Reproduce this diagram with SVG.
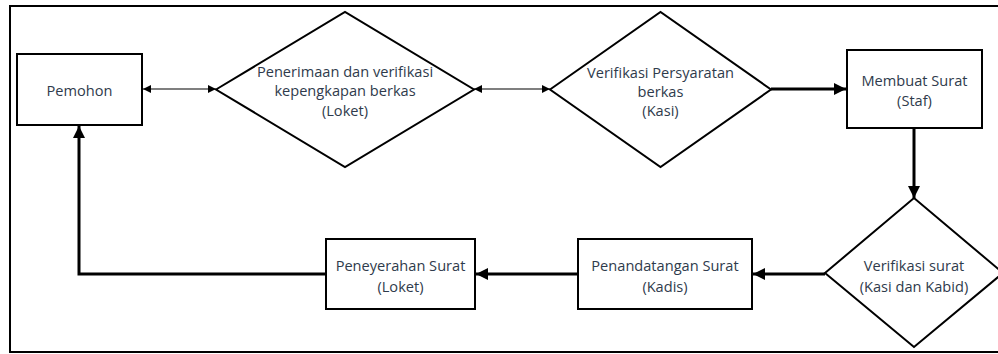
<svg xmlns="http://www.w3.org/2000/svg" width="998" height="354" viewBox="0 0 998 354">
<style>
.box{fill:#fff;stroke:#000;stroke-width:2}
.dia{fill:#fff;stroke:#000;stroke-width:2}
.t{font-family:"Open Sans","Liberation Sans",sans-serif;font-size:14.6px;fill:#2f3b4c;text-anchor:middle;dominant-baseline:central}
.thin{fill:none;stroke:#000;stroke-width:1.2}
.thick{fill:none;stroke:#000;stroke-width:3}
</style>
<defs>
<marker id="ah" viewBox="0 0 10 10" refX="10" refY="5" markerWidth="8" markerHeight="8" markerUnits="userSpaceOnUse" orient="auto-start-reverse"><path d="M0,0L10,5L0,10z" fill="#000"/></marker>
<marker id="ahb" viewBox="0 0 10 10" refX="10" refY="5" markerWidth="12" markerHeight="12" markerUnits="userSpaceOnUse" orient="auto-start-reverse"><path d="M0,0L10,5L0,10z" fill="#000"/></marker>
</defs>
<rect width="998" height="354" fill="#fff"/>
<rect x="10" y="6" width="1000" height="346" fill="none" stroke="#000" stroke-width="2"/>
<g id="connectors">
<line class="thin" x1="143" y1="89" x2="216" y2="89" marker-start="url(#ah)" marker-end="url(#ah)"/>
<line class="thin" x1="474" y1="89" x2="550" y2="89" marker-start="url(#ah)" marker-end="url(#ah)"/>
<line class="thick" x1="771" y1="89" x2="846" y2="89" marker-end="url(#ahb)"/>
<line class="thick" x1="914" y1="128" x2="914" y2="198" marker-end="url(#ahb)"/>
<line class="thick" x1="825" y1="274" x2="753" y2="274" marker-end="url(#ahb)"/>
<line class="thick" x1="578" y1="274" x2="476" y2="274" marker-end="url(#ahb)"/>
<polyline class="thick" points="326,274 79,274 79,126" marker-end="url(#ahb)"/>
</g>
<g id="pemohon">
<rect class="box" x="17" y="54" width="125" height="71"/>
<text class="t" x="79.5" y="90">Pemohon</text>
</g>
<g id="penerimaan">
<polygon class="dia" points="216,89.5 345,12 474,89.5 345,167"/>
<text class="t" x="345" y="71">Penerimaan dan verifikasi</text>
<text class="t" x="345" y="90">kepengkapan berkas</text>
<text class="t" x="345" y="110">(Loket)</text>
</g>
<g id="verifikasi-persyaratan">
<polygon class="dia" points="550,89.5 660.5,12 771,89.5 660.5,167"/>
<text class="t" x="660.5" y="72">Verifikasi Persyaratan</text>
<text class="t" x="660.5" y="91">berkas</text>
<text class="t" x="660.5" y="110">(Kasi)</text>
</g>
<g id="membuat-surat">
<rect class="box" x="847" y="50" width="135" height="78"/>
<text class="t" x="914.5" y="80">Membuat Surat</text>
<text class="t" x="914.5" y="100">(Staf)</text>
</g>
<g id="verifikasi-surat">
<polygon class="dia" points="825,273 914,198 1003,273 914,347"/>
<text class="t" x="914" y="265">Verifikasi surat</text>
<text class="t" x="914" y="286">(Kasi dan Kabid)</text>
</g>
<g id="penandatangan">
<rect class="box" x="578" y="239" width="174" height="70"/>
<text class="t" x="665" y="265">Penandatangan Surat</text>
<text class="t" x="665" y="286">(Kadis)</text>
</g>
<g id="peneyerahan">
<rect class="box" x="326" y="239" width="149" height="70"/>
<text class="t" x="400.5" y="265">Peneyerahan Surat</text>
<text class="t" x="400.5" y="286">(Loket)</text>
</g>
</svg>
